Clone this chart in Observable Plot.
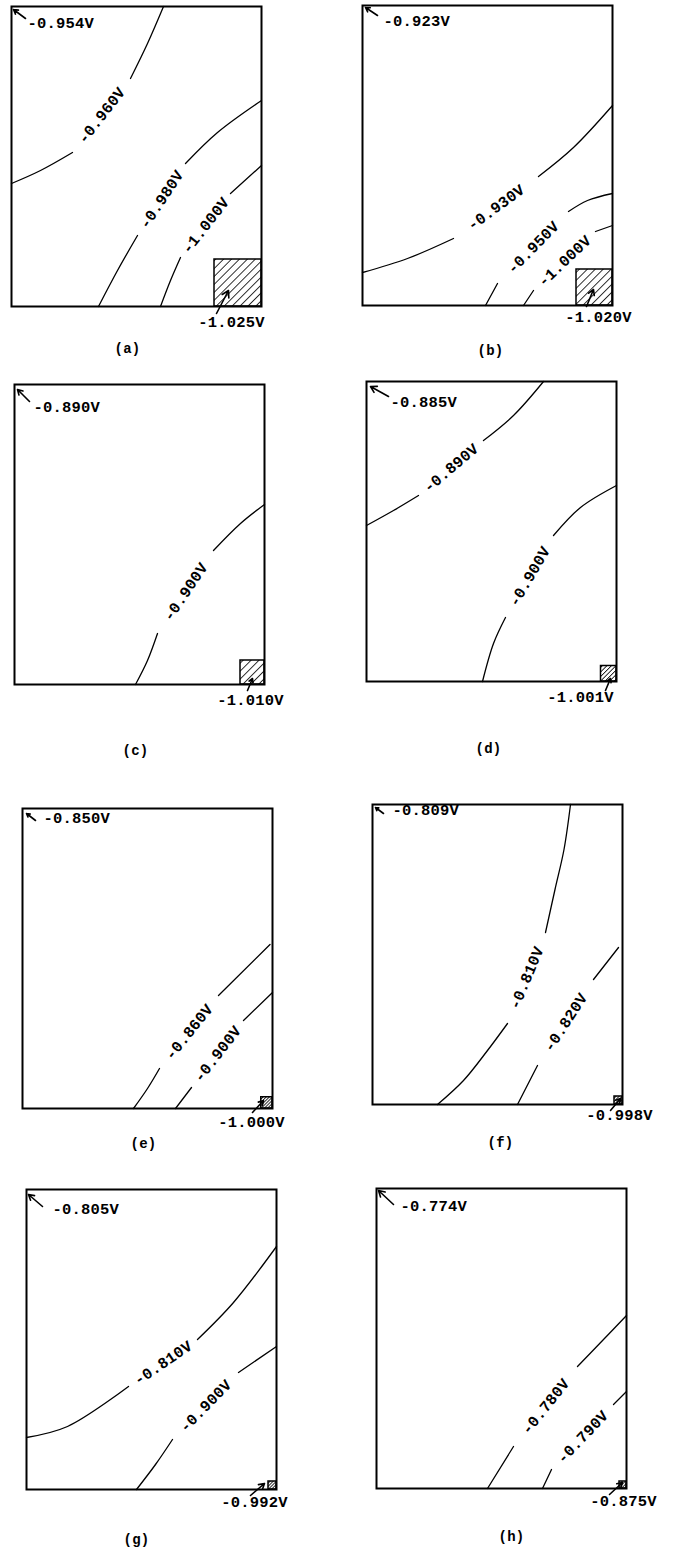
<!DOCTYPE html>
<html>
<head>
<meta charset="utf-8">
<script src="https://cdn.jsdelivr.net/npm/d3@7"></script>
<script src="https://cdn.jsdelivr.net/npm/@observablehq/plot@0.6"></script>
<style>
  body { margin: 0; background: #fff; }
  #page { position: relative; width: 673px; height: 1550px; overflow: hidden; background: #fff; }
  #page svg { position: absolute; }
</style>
</head>
<body>
<div id="page"></div>
<script>
// ---------------- data (panel units: x 0..10, y 0..12, y up) ----------------
const panelIds = ["a", "b", "c", "d", "e", "f", "g", "h"];
const maxValues = ["-0.954V", "-0.923V", "-0.890V", "-0.885V", "-0.850V", "-0.809V", "-0.805V", "-0.774V"];
const minValues = ["-1.025V", "-1.020V", "-1.010V", "-1.001V", "-1.000V", "-0.998V", "-0.992V", "-0.875V"];
const electrodeSize = [1.88, 1.44, 0.96, 0.62, 0.45, 0.32, 0.32, 0.28];

// null marks the break where the contour label sits
const contoursA = [
  {level: "-0.960V", points: [[0, 4.92], [1.16, 5.44], [2.44, 6.16], null, [4.76, 9.12], [5.44, 10.52], [6.08, 12]]},
  {level: "-0.980V", points: [[3.48, 0], [4.24, 1.44], [5.04, 2.84], null, [6.96, 5.72], [8.24, 6.96], [10, 8.24]]},
  {level: "-1.000V", points: [[5.96, 0], [6.36, 1.04], [6.76, 1.96], null, [8.76, 4.52], [10, 5.64]]}
];
const contoursB = [
  {level: "-0.930V", points: [[0, 1.32], [1.8, 1.88], [3.64, 2.68], null, [7.04, 5.16], [8.44, 6.32], [10, 8.0]]},
  {level: "-0.950V", points: [[4.92, 0], [5.4, 0.88], null, [8.24, 3.76], [9.0, 4.2], [10, 4.48]]},
  {level: "-1.000V", points: [[6.44, 0], [6.84, 0.6], null, [9.32, 2.96], [10, 3.2]]}
];
const contoursC = [
  {level: "-0.900V", points: [[4.84, 0], [5.32, 0.96], [5.72, 2.04], null, [7.96, 5.36], [9.04, 6.44], [10, 7.2]]}
];
const contoursD = [
  {level: "-0.890V", points: [[0, 6.24], [1.08, 6.84], [2.08, 7.44], null, [4.68, 9.64], [5.88, 10.64], [7.08, 12]]},
  {level: "-0.900V", points: [[4.64, 0], [5.08, 1.52], [5.56, 2.56], null, [7.48, 5.84], [8.56, 6.96], [10, 7.84]]}
];
const contoursE = [
  {level: "-0.860V", points: [[4.44, 0], [5.0, 0.8], [5.48, 1.6], null, [7.84, 4.52], [9.9, 6.56]]},
  {level: "-0.900V", points: [[6.12, 0], [6.76, 0.84], null, [8.84, 3.52], [10, 4.64]]}
];
const contoursF = [
  {level: "-0.810V", points: [[2.6, 0], [3.64, 0.96], [4.6, 2.16], [5.4, 3.24], null, [6.92, 6.88], [7.3, 8.6], [7.66, 10.2], [7.92, 12]]},
  {level: "-0.820V", points: [[5.8, 0], [6.6, 1.56], null, [8.84, 5.0], [9.84, 6.28]]}
];
const contoursG = [
  {level: "-0.810V", points: [[0, 2.08], [1.64, 2.52], [4.08, 4.12], null, [6.84, 6.0], [8.28, 7.48], [10, 9.72]]},
  {level: "-0.900V", points: [[4.4, 0], [5.16, 1.0], [5.84, 2.0], null, [8.48, 4.68], [10, 5.72]]}
];
const contoursH = [
  {level: "-0.780V", points: [[4.44, 0], [5.48, 1.68], null, [8.04, 4.88], [9.08, 5.96], [10, 6.92]]},
  {level: "-0.790V", points: [[6.64, 0], [7.0, 0.76], null, [9.48, 3.36], [10, 3.88]]}
];
const contourSets = [contoursA, contoursB, contoursC, contoursD, contoursE, contoursF, contoursG, contoursH];

// ---------------- layout (page placement and annotation anchors) ----------------
const U = 25;            // px per panel unit
const FW = 10, FH = 12;  // frame size in panel units
const M = {left: 10, right: 45, top: 8, bottom: 78};

const layout = {
  a: {left: 11,  top: 6,    maxAt: [0.64, 11.32], maxArrow: [0.56, 11.52, 0.08, 11.88], minAt: [8.8, -0.64],  minArrow: [8.2, -0.28, 8.68, 0.64],  letterAt: [4.64, -1.68]},
  b: {left: 362, top: 5,    maxAt: [0.84, 11.36], maxArrow: [0.6, 11.6, 0.12, 11.92],   minAt: [9.44, -0.48], minArrow: [8.96, -0.04, 9.24, 0.64], letterAt: [5.12, -1.8]},
  c: {left: 14,  top: 384,  maxAt: [0.76, 11.08], maxArrow: [0.6, 11.32, 0.12, 11.8],   minAt: [9.44, -0.64], minArrow: [9.32, -0.24, 9.52, 0.24], letterAt: [4.84, -2.64]},
  d: {left: 366, top: 381,  maxAt: [0.96, 11.16], maxArrow: [0.88, 11.4, 0.16, 11.8],   minAt: [8.56, -0.64], minArrow: [9.56, -0.36, 9.76, 0.12], letterAt: [4.88, -2.68]},
  e: {left: 22,  top: 808,  maxAt: [0.84, 11.6],  maxArrow: [0.52, 11.52, 0.16, 11.8],  minAt: [9.16, -0.56], minArrow: [9.2, -0.16, 9.64, 0.32],  letterAt: [4.84, -1.4]},
  f: {left: 372, top: 804,  maxAt: [0.8, 11.78],  maxArrow: [0.44, 11.64, 0.12, 11.88], minAt: [9.88, -0.44], minArrow: [9.52, -0.24, 9.92, 0.24], letterAt: [5.12, -1.52]},
  g: {left: 26,  top: 1189, maxAt: [1.04, 11.2],  maxArrow: [0.64, 11.32, 0.08, 11.8],  minAt: [9.12, -0.52], minArrow: [8.96, -0.24, 9.52, 0.24], letterAt: [4.4, -2.0]},
  h: {left: 376, top: 1188, maxAt: [0.96, 11.28], maxArrow: [0.68, 11.36, 0.08, 11.92], minAt: [9.88, -0.52], minArrow: [9.32, -0.24, 9.84, 0.24], letterAt: [5.4, -1.92]}
};

function buildContours(contours) {
  const rows = [], labels = [];
  for (const c of contours) {
    c.points.forEach((p, i) => {
      if (p === null) {
        rows.push({level: c.level, x: NaN, y: NaN});
        const a = c.points[i - 1], b = c.points[i + 1];
        const ang = Math.atan2(-(b[1] - a[1]), b[0] - a[0]) * 180 / Math.PI;
        labels.push({text: c.level, x: (a[0] + b[0]) / 2, y: (a[1] + b[1]) / 2, rotate: ang});
      } else {
        rows.push({level: c.level, x: p[0], y: p[1]});
      }
    });
  }
  return {rows, labels};
}

const page = document.getElementById("page");
const font = "'Liberation Mono', 'DejaVu Sans Mono', monospace";

panelIds.forEach((id, i) => {
  const L = layout[id];
  const {rows, labels} = buildContours(contourSets[i]);
  const s = electrodeSize[i];
  const px = s * U;
  const gap = px >= 20 ? 5.6 : px >= 12 ? 3.2 : 2.2;   // hatch spacing; tiny squares print nearly solid
  const arrowOpts = {x1: d => d[0], y1: d => d[1], x2: d => d[2], y2: d => d[3], stroke: "black", strokeWidth: 1.6, headLength: 7};
  const svg = Plot.plot({
    width: FW * U + M.left + M.right,
    height: FH * U + M.top + M.bottom,
    marginLeft: M.left, marginRight: M.right, marginTop: M.top, marginBottom: M.bottom,
    x: {domain: [0, FW], axis: null},
    y: {domain: [0, FH], axis: null},
    style: `font-family: ${font}; font-weight: bold; font-size: 15.5px; letter-spacing: 0.2px; background: transparent; color: black;`,
    marks: [
      Plot.rect([{x1: FW - s, x2: FW, y1: 0, y2: s}], {x1: "x1", x2: "x2", y1: "y1", y2: "y2", fill: `url(#hatch-${id})`, stroke: "black", strokeWidth: 1.5}),
      Plot.line(rows, {x: "x", y: "y", z: "level", stroke: "black", strokeWidth: 1.3, curve: "catmull-rom"}),
      Plot.text(labels, {x: "x", y: "y", text: "text", rotate: "rotate", fill: "black"}),
      Plot.frame({stroke: "black", strokeWidth: 2}),
      Plot.text([maxValues[i]], {x: L.maxAt[0], y: L.maxAt[1], text: d => d, textAnchor: "start", fill: "black"}),
      Plot.arrow([L.maxArrow], arrowOpts),
      Plot.text([minValues[i]], {x: L.minAt[0], y: L.minAt[1], text: d => d, fill: "black"}),
      Plot.arrow([L.minArrow], arrowOpts),
      Plot.text([`(${id})`], {x: L.letterAt[0], y: L.letterAt[1], text: d => d, fontSize: 14, fill: "black"})
    ]
  });
  svg.insertAdjacentHTML("afterbegin",
    `<defs><pattern id="hatch-${id}" patternUnits="userSpaceOnUse" width="${gap}" height="${gap}" patternTransform="rotate(45)">` +
    `<rect width="${gap}" height="${gap}" fill="white"/><line x1="0" y1="0" x2="0" y2="${gap}" stroke="black" stroke-width="1.6"/></pattern></defs>`);
  svg.style.left = (L.left - M.left) + "px";
  svg.style.top = (L.top - M.top) + "px";
  page.appendChild(svg);
});
</script>
</body>
</html>
